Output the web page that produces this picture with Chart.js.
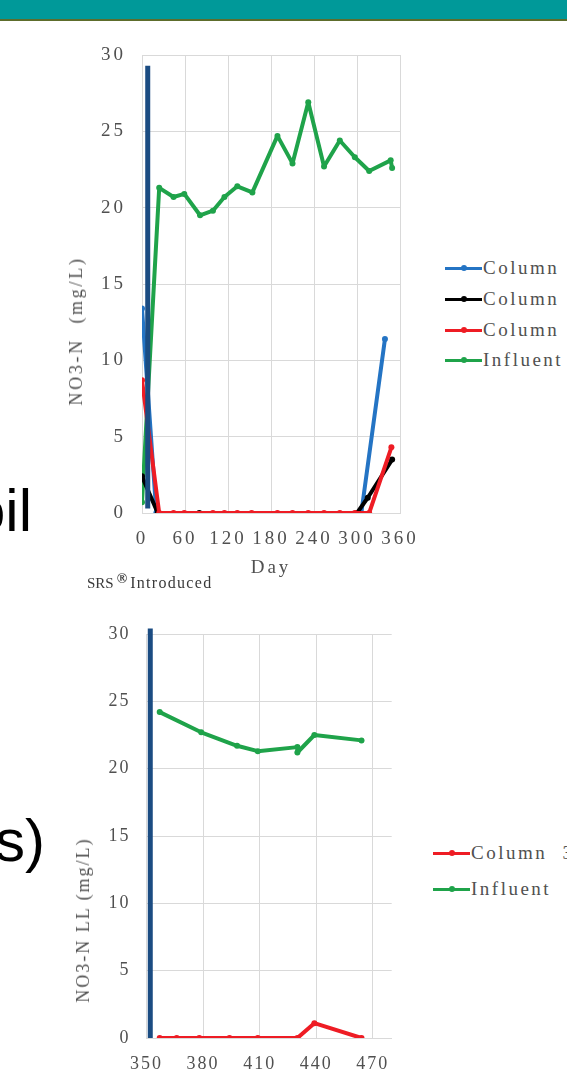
<!DOCTYPE html>
<html>
<head>
<meta charset="utf-8">
<script src="https://cdn.jsdelivr.net/npm/chart.js@4.4.1/dist/chart.umd.min.js"></script>
<style>
html, body { margin: 0; padding: 0; background: #fff; }
body { width: 567px; height: 1078px; overflow: hidden; position: relative; font-family: "Liberation Serif", serif; }
#topbar { position: absolute; left: 0; top: 0; width: 567px; height: 19px; background: #009999; border-bottom: 2px solid #5d6d2c; }
.slide { position: absolute; font-family: "Liberation Sans", sans-serif; font-size: 60px; line-height: 60px; color: #000; white-space: nowrap; }
canvas { position: absolute; left: 0; }
#c1 { top: 0; }
#c2 { top: 600px; }
.legend { position: absolute; color: #505050; font-size: 19px; letter-spacing: 2.5px; word-spacing: 8px; white-space: nowrap; }
.item { position: absolute; left: 0; height: 22px; line-height: 22px; }
.item .ln { position: absolute; left: 0; top: 9.5px; width: 37px; height: 3px; }
.item .dot { position: absolute; left: 15.5px; top: 8px; width: 6px; height: 6px; border-radius: 50%; }
.item .tx { position: absolute; left: 38px; top: 0; }
.ytitle { position: absolute; color: #505050; font-size: 18px; line-height: 20px; white-space: nowrap; transform: translate(-50%, -50%) rotate(-90deg); }
#srs { position: absolute; left: 87px; top: 571px; line-height: 16px; color: #3a3a3a; white-space: nowrap; }
#srs .a { font-size: 15px; }
#srs sup { font-size: 14px; font-weight: bold; vertical-align: 5px; margin: 0 3px 0 3px; }
#srs .b { font-size: 16px; letter-spacing: 1.3px; }
</style>
</head>
<body>
<div id="topbar"></div>
<div class="slide" style="right:535px;top:481px;">Soil</div>
<div class="slide" style="right:522px;top:811px;">s)</div>

<canvas id="c1" width="430" height="600"></canvas>
<canvas id="c2" width="430" height="478"></canvas>

<div class="ytitle" style="left:76px;top:331px;letter-spacing:2.7px;">NO3-N&nbsp;&nbsp;(mg/L)</div>
<div class="ytitle" style="left:82.5px;top:920px;letter-spacing:2px;">NO3-N LL (mg/L)</div>
<div id="srs"><span class="a">SRS</span><sup>®</sup><span class="b">Introduced</span></div>
<div class="legend" id="leg1" style="left:445px;top:0;"></div>
<div class="legend" id="leg2" style="left:433px;top:0;"></div>

<script>
// chart 1: days 0-360
const blueDays1 = [0, 20, 306, 339];
const blue1 = [13.4, 0, 0, 11.4];
const blackDays1 = [0, 22, 80, 300, 315, 349];
const black1 = [2.4, 0, 0, 0, 1.0, 3.5];
const redDays1 = [0, 24, 44, 59, 99, 115, 133, 153, 189, 210, 232, 254, 276, 297, 317, 348];
const red1 = [8.7, 0, 0, 0, 0, 0, 0, 0, 0, 0, 0, 0, 0, 0, 0, 4.3];
const greenDays1 = [0, 24, 44, 59, 81, 99, 115, 133, 154, 189, 210, 232, 254, 276, 297, 317, 347, 349];
const green1 = [0.7, 21.3, 20.7, 20.9, 19.5, 19.8, 20.7, 21.4, 21.0, 24.7, 22.9, 26.9, 22.7, 24.4, 23.3, 22.4, 23.1, 22.6];
const srsDays1 = [8, 8];
const srs1 = [0.3, 29.3];

// chart 2: days 350-470
const redDays2 = [357, 366, 378, 394, 409, 430, 439, 464];
const red2 = [0, 0, 0, 0, 0, 0, 1.1, 0];
const greenDays2 = [357, 379, 398, 409, 430, 430, 439, 464];
const green2 = [24.2, 22.7, 21.7, 21.3, 21.6, 21.2, 22.5, 22.1];
const srsDays2 = [352, 352];
const srs2 = [0, 30.4];

const yTicks = [0, 5, 10, 15, 20, 25, 30];
const xTicks1 = [0, 60, 120, 180, 240, 300, 360];
const xTicks2 = [350, 380, 410, 440, 470];

const BLUE = "#2474c4", BLACK = "#000000", RED = "#ee1c24", GREEN = "#1fa34a", NAVY = "#1b4c82";
const GRID = "#d9d9d9", TEXT = "#505050";

function pts(xs, ys) {
    return xs.map((x, i) => ({ x: x, y: ys[i] }));
}

function series(label, xs, ys, color, order) {
    return {
        label: label,
        data: pts(xs, ys),
        borderColor: color,
        backgroundColor: color,
        borderWidth: 4,
        borderJoinStyle: "round",
        borderCapStyle: "round",
        pointRadius: 3,
        pointBorderWidth: 0,
        order: order
    };
}

function srsLine(xs, ys) {
    return {
        label: "SRS",
        data: pts(xs, ys),
        borderColor: NAVY,
        borderWidth: 5,
        pointRadius: 0,
        clip: false,
        order: 0
    };
}

function spacing(px) {
    return {
        id: "spacing",
        beforeUpdate(chart) { chart.ctx.letterSpacing = px; },
        beforeDraw(chart) { chart.ctx.letterSpacing = px; }
    };
}

function axes(xMin, xMax, xList, xTitle, xSize, yWidth, xHeight, ySize) {
    return {
        x: {
            type: "linear",
            min: xMin,
            max: xMax,
            afterBuildTicks(s) { s.ticks = xList.map(v => ({ value: v })); },
            afterFit(s) { s.height = xHeight; s.paddingLeft = 0; s.paddingRight = 0; },
            grid: { color: GRID, lineWidth: 1, drawTicks: false },
            border: { color: GRID },
            ticks: { color: TEXT, font: { family: "Liberation Serif", size: xSize }, padding: 15, maxRotation: 0, autoSkip: false },
            title: { display: !!xTitle, text: xTitle, color: TEXT, font: { family: "Liberation Serif", size: 19 }, padding: 4 }
        },
        y: {
            min: 0,
            max: 30,
            afterBuildTicks(s) { s.ticks = yTicks.map(v => ({ value: v })); },
            afterFit(s) { s.width = yWidth; s.paddingTop = 0; s.paddingBottom = 0; },
            grid: { color: GRID, lineWidth: 1, drawTicks: false },
            border: { color: GRID },
            ticks: { color: TEXT, font: { family: "Liberation Serif", size: ySize }, padding: 16 }
        }
    };
}

const data1 = [
    srsLine(srsDays1, srs1),
    series("Column 1", blueDays1, blue1, BLUE, 3),
    series("Column 2", blackDays1, black1, BLACK, 2),
    series("Column 3", redDays1, red1, RED, 1),
    series("Influent", greenDays1, green1, GREEN, 4)
];
const data2 = [
    srsLine(srsDays2, srs2),
    series("Column 3", redDays2, red2, RED, 1),
    series("Influent", greenDays2, green2, GREEN, 2)
];

Chart.defaults.animation = false;

new Chart(document.getElementById("c1"), {
    type: "line",
    data: { datasets: data1 },
    options: {
        responsive: false,
        layout: { padding: { left: 61, top: 55, right: 30, bottom: 17 } },
        plugins: { legend: { display: false }, tooltip: { enabled: false } },
        scales: axes(0, 360, xTicks1, "Day", 19, 81, 70, 19)
    },
    plugins: [spacing("3px")]
});

new Chart(document.getElementById("c2"), {
    type: "line",
    data: { datasets: data2 },
    options: {
        responsive: false,
        layout: { padding: { left: 67.5, top: 34, right: 38.3, bottom: 0 } },
        plugins: { legend: { display: false }, tooltip: { enabled: false } },
        scales: axes(350, 480, xTicks2, "", 18, 79, 40, 18)
    },
    plugins: [spacing("2px")]
});

// html legends, cut off by the page edge like the slide
function legend(id, sets, ys) {
    const box = document.getElementById(id);
    sets.forEach((d, i) => {
        const it = document.createElement("div");
        it.className = "item";
        it.style.top = (ys[i] - 11) + "px";
        it.innerHTML = '<div class="ln" style="background:' + d.borderColor + '"></div>' +
            '<div class="dot" style="background:' + d.borderColor + '"></div>' +
            '<div class="tx">' + d.label + '</div>';
        box.appendChild(it);
    });
}
legend("leg1", data1.slice(1), [268, 299, 330, 360]);
legend("leg2", data2.slice(1), [853, 889]);
</script>
</body>
</html>
